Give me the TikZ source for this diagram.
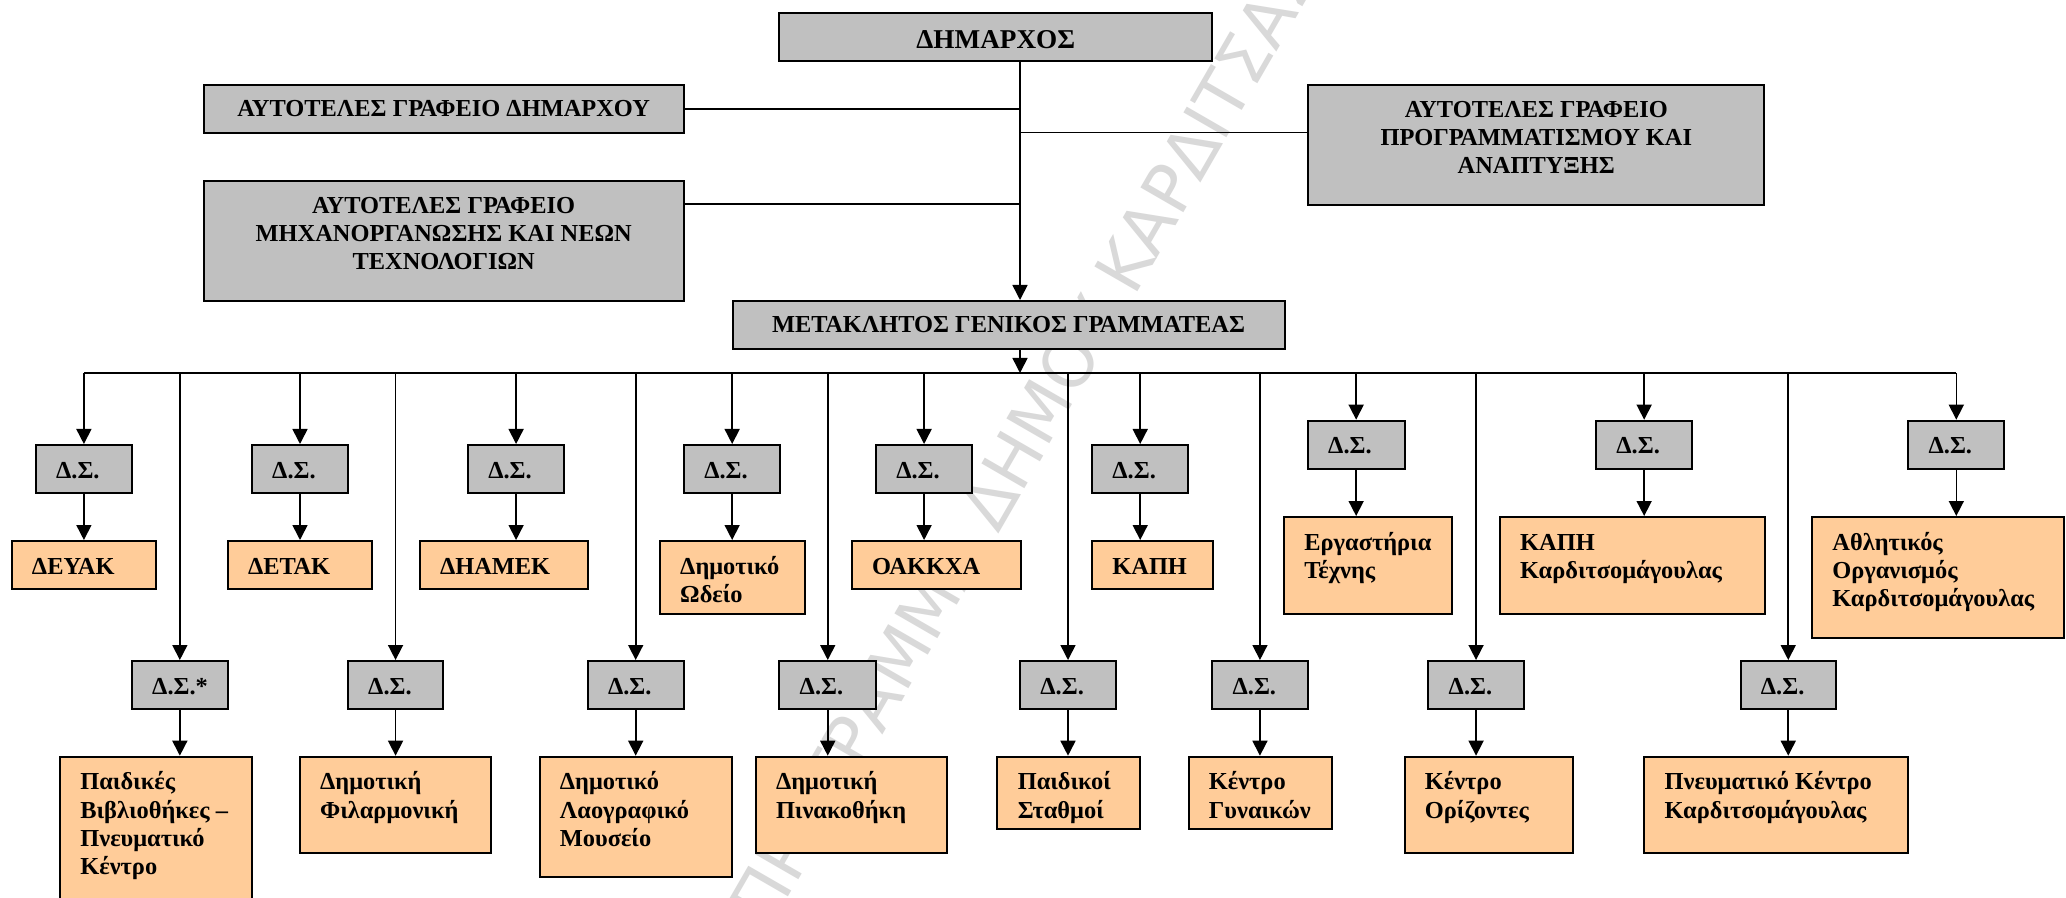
\documentclass[tikz,border=0pt]{standalone}
\usepackage{fontspec}
\setmainfont{Liberation Serif}
\newfontfamily\wmfont{DejaVu Sans}
\usetikzlibrary{arrows.meta,calc}
\definecolor{boxgray}{HTML}{C0C0C0}
\definecolor{boxorange}{HTML}{FFCC99}
\tikzset{
  greybox/.style={draw, fill=boxgray, line width=1pt, inner sep=0pt},
  orangebox/.style={draw, fill=boxorange, line width=1pt, inner sep=0pt},
  txt/.style={inner sep=0pt, font=\fontsize{12.2}{14.15}\selectfont\bfseries},
  bigtxt/.style={inner sep=0pt, font=\fontsize{13.6}{14.15}\selectfont\bfseries},
  conn/.style={line width=0.8pt},
  arr/.style={conn, -{Triangle[length=7.5pt,width=7.5pt]}},
  wmark/.style={inner sep=0pt, text=black!15, font=\fontsize{34}{34}\selectfont\wmfont},
}
\newcommand\bx[6]{\node[#2, minimum width={((#5)-(#3))*0.5pt}, minimum height={((#6)-(#4))*0.5pt}] (#1) at ({((#3)+(#5))/2},{((#4)+(#6))/2}) {};}
\newcommand\Ltxt[2]{\node[txt, anchor=base west] (#1t) at ([shift={(10.5pt,-17pt)}]#1.north west) {\begin{tabular}[t]{@{}l@{}}#2\end{tabular}};}
\newcommand\Ctxt[4][txt]{\node[#1, anchor=base] (#2t) at ([yshift=-#3]#2.north) {\begin{tabular}[t]{@{}c@{}}#4\end{tabular}};}
\begin{document}
\begin{tikzpicture}[x=0.5pt, y=-0.5pt]
\useasboundingbox (0,0) rectangle (2066,898);
\clip (0,0) rectangle (2066,898);
\fill[white] (0,0) rectangle (2066,898);
% watermark
\node[wmark, rotate=60] (wm) at (1024,440) {ΠΡΟΓΡΑΜΜΑ ΔΗΜΟΥ ΚΑΡΔΙΤΣΑΣ};

% top part
\bx{dim}{greybox}{779.3}{12.7}{1212.2}{61}
\bx{A}{greybox}{203.6}{84.7}{683.8}{133}
\bx{B}{greybox}{203.6}{181}{683.8}{301}
\bx{C}{greybox}{1308.4}{84.7}{1764.2}{205}
\bx{gen}{greybox}{732.5}{301}{1284.6}{349}
\Ctxt[bigtxt]{dim}{18.3pt}{ΔΗΜΑΡΧΟΣ}
\Ctxt{A}{16.3pt}{ΑΥΤΟΤΕΛΕΣ ΓΡΑΦΕΙΟ ΔΗΜΑΡΧΟΥ}
\Ctxt{B}{16.7pt}{ΑΥΤΟΤΕΛΕΣ ΓΡΑΦΕΙΟ\\ΜΗΧΑΝΟΡΓΑΝΩΣΗΣ ΚΑΙ ΝΕΩΝ\\ΤΕΧΝΟΛΟΓΙΩΝ}
\Ctxt{C}{16.8pt}{ΑΥΤΟΤΕΛΕΣ ΓΡΑΦΕΙΟ\\ΠΡΟΓΡΑΜΜΑΤΙΣΜΟΥ ΚΑΙ\\ΑΝΑΠΤΥΞΗΣ}
\Ctxt{gen}{16.2pt}{ΜΕΤΑΚΛΗΤΟΣ ΓΕΝΙΚΟΣ ΓΡΑΜΜΑΤΕΑΣ}

\coordinate (tk) at (1020,0);
\coordinate (cj) at (1020,132.7);
\coordinate (bj) at (1020,204.3);
\coordinate (busL) at (83.9,373);
\coordinate (busR) at (1956.3,373);
\draw[arr] (dim.south -| tk) -- (gen.north -| tk);
\draw[conn] (A.east) -- (A.east -| tk);
\draw[conn] (B.east |- bj) -- (bj);
\draw[conn, line width=0.6pt] (cj) -- (cj -| C.west);
\draw[arr] (gen.south -| tk) -- (tk |- busL);
\draw[conn] (busL) -- (busR);

% upper row: boards
\bx{ds1}{greybox}{35.7}{445}{132.1}{493.3}
\bx{ds2}{greybox}{251.8}{445}{348.2}{493.3}
\bx{ds3}{greybox}{467.9}{445}{564.3}{493.3}
\bx{ds4}{greybox}{683.9}{445}{780.4}{493.3}
\bx{ds5}{greybox}{875.9}{445}{972.3}{493.3}
\bx{ds6}{greybox}{1092}{445}{1188.4}{493.3}
\bx{ds7}{greybox}{1307.8}{420.7}{1404.5}{469}
\bx{ds8}{greybox}{1596}{420.7}{1692.3}{469}
\bx{ds9}{greybox}{1908.2}{420.7}{2004.4}{469}
% upper row: entities
\bx{or1}{orangebox}{11.6}{541}{156.3}{589.3}
\bx{or2}{orangebox}{227.7}{541}{372.3}{589.3}
\bx{or3}{orangebox}{419.6}{541}{588.4}{589.3}
\bx{or4}{orangebox}{659.8}{541}{804.5}{613.7}
\bx{or5}{orangebox}{851.8}{541}{1020.5}{589.3}
\bx{or6}{orangebox}{1092}{541}{1212.5}{589.3}
\bx{or7}{orangebox}{1284}{517}{1452.4}{613.7}
\bx{or8}{orangebox}{1499.8}{517}{1764.6}{613.7}
\bx{or9}{orangebox}{1812}{517}{2064}{637.5}

% lower row: boards
\bx{dsa}{greybox}{131.8}{661}{227.9}{709.3}
\bx{dsb}{greybox}{347.8}{661}{443.3}{709.3}
\bx{dsc}{greybox}{587.6}{661}{683.8}{709.3}
\bx{dsd}{greybox}{779.3}{661}{876.2}{709.3}
\bx{dse}{greybox}{1020}{661}{1116}{709.3}
\bx{dsf}{greybox}{1212.2}{661}{1307.7}{709.3}
\bx{dsg}{greybox}{1428.3}{661}{1523.8}{709.3}
\bx{dsh}{greybox}{1740.5}{661}{1836}{709.3}
% lower row: entities
\bx{ora}{orangebox}{60}{756.7}{251.6}{910}
\bx{orb}{orangebox}{299.7}{756.7}{491.4}{853.3}
\bx{orc}{orangebox}{539.5}{756.7}{731.9}{877.3}
\bx{ord}{orangebox}{755.6}{756.7}{947.3}{853.3}
\bx{ore}{orangebox}{997.4}{756.7}{1139.7}{829.3}
\bx{orf}{orangebox}{1188.5}{756.7}{1332.1}{829.3}
\bx{org}{orangebox}{1404.5}{756.7}{1572.5}{853.3}
\bx{orh}{orangebox}{1644.3}{756.7}{1907.8}{853.3}

% connectors
\foreach \i in {1,...,9,a,b,c,d,e,f,g,h} {
  \draw[arr] (ds\i.north |- busL) -- (ds\i.north);
  \draw[arr] (ds\i.south) -- (ds\i.south |- or\i.north);
}

% texts
\foreach \i in {1,...,9,b,c,d,e,f,g,h} {\Ltxt{ds\i}{Δ.Σ.}}
\Ltxt{dsa}{Δ.Σ.*}
\Ltxt{or1}{ΔΕΥΑΚ}
\Ltxt{or2}{ΔΕΤΑΚ}
\Ltxt{or3}{ΔΗΑΜΕΚ}
\Ltxt{or4}{Δημοτικό\\Ωδείο}
\Ltxt{or5}{ΟΑΚΚΧΑ}
\Ltxt{or6}{ΚΑΠΗ}
\Ltxt{or7}{Εργαστήρια\\Τέχνης}
\Ltxt{or8}{ΚΑΠΗ\\Καρδιτσομάγουλας}
\Ltxt{or9}{Αθλητικός\\Οργανισμός\\Καρδιτσομάγουλας}
\Ltxt{ora}{Παιδικές\\Βιβλιοθήκες --\\Πνευματικό\\Κέντρο}
\Ltxt{orb}{Δημοτική\\Φιλαρμονική}
\Ltxt{orc}{Δημοτικό\\Λαογραφικό\\Μουσείο}
\Ltxt{ord}{Δημοτική\\Πινακοθήκη}
\Ltxt{ore}{Παιδικοί\\Σταθμοί}
\Ltxt{orf}{Κέντρο\\Γυναικών}
\Ltxt{org}{Κέντρο\\Ορίζοντες}
\Ltxt{orh}{Πνευματικό Κέντρο\\Καρδιτσομάγουλας}
\end{tikzpicture}
\end{document}
